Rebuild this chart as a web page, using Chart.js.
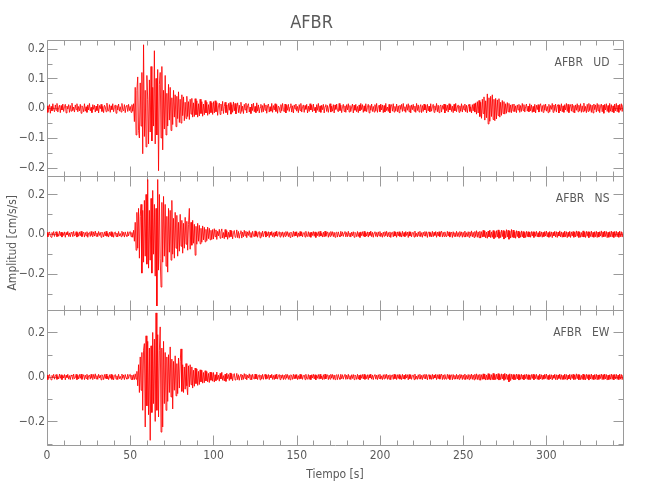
<!DOCTYPE html>
<html>
<head>
<meta charset="utf-8">
<script src="https://cdn.jsdelivr.net/npm/chart.js@4/dist/chart.umd.min.js"></script>
<style>
html,body{margin:0;padding:0;background:#ffffff;}
#wrap{position:relative;width:650px;height:500px;}
</style>
</head>
<body>
<div id="wrap"><canvas id="c"></canvas></div>
<script>
// ---- sampling: one value every 0.5 s from 0 to 346 s ----
const SAMPLE_STEP = 0.5;      // s
const AMP_UNIT = 0.001;       // stored values are thousandths of cm/s/s

// ---- UD component ----
const udValues = [
  // 0-51.5 s
  8,-14,3,12,-17,6,-9,15,-4,-12,11,-7,16,-13,2,10,-15,9,-6,14,
  -11,5,13,-16,7,-3,12,-14,9,-10,17,-8,4,-13,11,-5,15,-12,6,-9,
  13,-17,8,2,-12,15,-10,5,-14,11,-6,16,-9,3,-15,12,-4,10,-13,7,
  -8,14,-16,9,-2,13,-11,6,-15,10,4,-12,17,-7,-10,12,-14,8,-5,15,
  -12,3,11,-17,9,-6,14,-10,5,-13,16,-4,-9,12,-15,7,10,-11,13,-8,
  6,-14,12,-10,
  // 52-99.5 s
  15,-45,70,-90,60,105,-75,-100,85,-60,
  120,-153,213,-95,60,-130,110,30,-120,95,
  -80,140,-110,70,-60,193,-120,100,-90,130,
  -210,80,120,-100,140,-140,60,-70,110,-90,
  50,-60,80,-40,70,-75,35,-55,60,-30,
  45,-62,40,-35,55,-48,30,-50,45,-25,
  38,-42,20,-35,40,-28,22,-38,30,-20,
  33,-30,18,-28,32,-22,25,-30,15,-26,
  30,-18,22,-27,14,-22,26,-16,20,-24,
  12,-20,23,-15,18,-21,
  // 100-346 s
  22,-16,25,-12,19,-24,8,17,-21,14,-9,23,-18,6,20,-15,11,-22,16,-7,
  19,-20,12,-14,21,-9,16,-19,5,18,-15,10,-17,20,-11,7,-18,13,-6,17,
  -16,9,15,-13,4,-18,14,-8,17,-12,6,-15,18,-10,11,-16,3,13,-14,9,
  -12,16,-7,11,-17,8,14,-13,5,-10,16,-14,9,-6,15,-11,12,-17,7,3,
  -14,12,-9,16,-5,-12,14,-16,10,-7,13,-11,4,15,-13,8,-16,11,-3,14,
  -10,6,-15,12,-8,16,-13,5,11,-14,9,-4,13,-16,7,-11,15,-6,10,-12,
  14,-9,3,-15,12,-7,16,-12,8,-14,10,-5,13,-16,6,12,-11,9,-14,4,
  15,-13,7,-10,12,-16,11,-4,14,-9,-12,16,-8,10,-15,5,13,-11,8,-14,
  12,-6,15,-13,9,-11,4,14,-16,10,-7,13,-12,6,-15,11,-9,16,-5,12,
  -14,8,-10,15,-12,3,13,-16,9,-7,14,-11,6,-13,12,-9,16,-14,5,10,
  -12,14,-6,11,-15,9,-13,16,-8,4,-11,13,-16,7,12,-10,15,-13,6,-9,
  14,-12,8,-15,10,-4,13,-11,16,-9,5,-14,12,-7,15,-12,9,-16,11,-5,
  13,-10,7,-14,16,-8,11,-13,4,12,-15,9,-11,14,-6,10,-16,13,-9,7,
  -12,15,-10,5,13,-14,8,-7,16,-12,10,-15,6,11,-13,9,-4,14,-16,12,
  -8,10,-13,15,-6,12,-11,7,-15,13,-9,16,-12,4,11,-14,8,-10,15,-13,
  9,-6,14,-12,10,-15,7,13,-11,5,-16,12,-9,15,-13,18,-20,22,-16,26,
  -28,20,-34,30,-18,38,-40,25,-32,48,-53,35,-44,40,-28,45,-38,30,-42,33,
  -36,28,-25,32,-30,20,-24,26,-18,22,-20,15,-17,19,-12,16,-14,11,-15,13,
  -10,14,-12,8,-15,11,-6,13,-14,9,-11,16,-8,12,-13,5,14,-10,7,-12,
  15,-9,11,-14,6,-12,13,-16,10,-5,12,-13,8,15,-11,9,-14,12,-7,14,
  -10,6,-15,13,-12,9,-4,16,-14,11,-8,14,-13,7,12,-16,10,-9,15,-12,
  8,-14,12,-6,16,-11,13,-15,5,12,-10,14,-13,9,-16,11,-7,15,-12,10,
  -9,15,-14,8,-12,17,-10,6,-15,13,-11,16,-8,12,-14,10,-16,14,-5,11,
  -13,16,-9,12,-15,7,14,-12,10,-17,13,-6,15,-11,9,-14,16,-10,12,-13,
  8,-15,14,-9,16,-12,10,-14,13,-7,15,-11,12
];

// ---- NS component ----
const nsValues = [
  // 0-51.5 s
  10,-13,4,12,-8,-15,9,-5,14,-11,6,13,-12,3,-10,15,-7,11,-14,8,
  -6,12,-15,9,-3,14,-11,7,-13,10,5,-12,15,-9,-4,13,-14,8,-10,12,
  -7,15,-12,4,11,-14,9,-8,13,-15,6,10,-11,14,-5,-13,12,-9,16,-10,
  7,-12,14,-6,9,-15,11,3,-13,12,-8,15,-10,5,-14,11,-7,13,-12,9,
  -15,8,12,-11,6,-13,14,-9,4,-12,15,-7,10,-14,12,-5,-11,13,-8,10,
  14,-12,9,-15,
  // 52-99.5 s
  20,-35,60,-80,110,-70,130,-120,90,150,
  -195,120,-140,170,-110,200,-150,275,-170,120,
  -130,180,-195,220,-100,150,-210,130,-360,275,
  -180,200,-120,-265,160,-140,190,-110,150,-160,
  90,-190,130,-90,120,-130,170,-100,80,-120,
  110,-70,95,-110,60,-85,100,-60,70,-95,
  55,-70,85,-50,65,-80,50,130,-75,60,
  -55,70,-45,50,-105,40,-50,55,-35,45,
  -48,30,-40,42,-28,35,-38,25,-32,36,
  -22,30,-28,20,-26,24,
  // 100-346 s
  -24,28,-12,22,-26,15,-8,25,-20,12,27,-18,9,-22,24,-14,18,-25,10,-16,
  21,-12,17,-23,8,19,-15,-10,22,-17,14,-20,6,18,-19,11,-13,20,-8,15,
  -17,12,-6,18,-14,9,-16,15,-4,-13,17,-10,12,-15,7,14,-18,9,-11,16,
  -12,6,15,-14,10,-8,13,-16,11,-5,14,-12,8,-15,12,-9,16,-11,4,13,
  -14,10,-7,12,-15,9,-11,14,-6,13,-12,8,-16,11,5,-13,15,-10,12,-8,
  13,-15,7,-11,14,-9,12,-13,6,10,-14,15,-8,-11,13,-12,9,-15,11,-6,
  14,-10,12,-16,8,-7,13,-12,15,-9,5,-14,11,-13,16,-10,7,12,-15,9,
  -11,14,-6,13,-12,10,-15,8,11,-14,12,-5,-13,15,-9,12,-11,6,14,-13,
  9,-12,15,-10,7,-14,11,-8,13,-15,10,4,-12,14,-11,9,-16,12,-7,13,
  -10,15,-13,8,-9,12,-14,11,-6,16,-12,10,-15,7,13,-11,9,-14,12,-8,
  14,-12,6,-15,11,-10,13,-7,15,-13,9,-11,12,-16,8,10,-13,14,-9,11,
  -15,12,-8,13,-11,7,-14,15,-10,9,-12,14,-6,11,-16,13,-9,12,-13,8,
  10,-14,16,-11,5,-13,12,-9,15,-12,8,-15,11,-7,14,-10,13,-16,9,12,
  -11,8,-13,15,-12,10,-6,14,-15,11,-9,13,-12,7,16,-14,10,-11,12,-8,
  -13,15,-9,12,-14,6,11,-16,13,-10,8,-12,15,-11,9,-13,14,-7,12,-15,
  10,-12,16,-14,8,-11,13,-15,12,-9,17,-13,10,-16,14,-11,18,-15,12,-17,
  15,-19,13,-14,20,-12,17,-18,11,-20,16,-13,21,-17,12,-15,19,-22,14,-16,
  18,-14,22,-20,13,-17,21,-12,19,-24,15,-18,23,-14,20,-25,16,-19,24,-15,
  21,-17,13,-20,18,-12,16,-19,11,-15,17,-13,14,-18,10,-16,15,-12,13,-14,
  11,-15,14,-9,13,-16,12,-10,15,-13,8,-14,16,-11,12,-15,10,-12,14,-9,
  16,-13,9,-15,14,-11,12,-17,10,-8,15,-14,13,-16,11,-9,17,-13,12,-15,
  9,-14,16,-12,13,-17,10,-11,15,-16,12,-9,14,-15,11,-13,17,-10,14,-16,
  12,-15,9,-13,17,-14,11,-16,15,-10,13,-17,12,-11,16,-14,10,-15,13,-12,
  15,-16,11,-14,13,-9,17,-15,12,-13,16,-11,14,-17,10,-15,13,-12,16,-14,
  12,-16,14,-11,15,-13,10,-15,16,-12,13,-14,11
];

// ---- EW component ----
const ewValues = [
  // 0-51.5 s
  9,-12,3,11,-8,-13,7,-4,12,-10,5,11,-11,2,-9,13,-6,10,-12,7,
  -5,11,-13,8,-3,12,-10,6,-12,9,4,-11,13,-8,-4,12,-12,7,-9,11,
  -6,13,-11,4,10,-12,8,-7,12,-13,5,9,-10,12,-4,-12,11,-8,14,-9,
  6,-11,12,-5,8,-13,10,3,-12,11,-7,13,-9,4,-12,10,-6,12,-11,8,
  -13,7,11,-10,5,-12,12,-8,3,-11,13,-6,9,-12,11,-4,-10,12,-7,9,
  12,-11,8,-13,
  // 52-99.5 s
  10,-12,14,-10,25,-40,55,-70,90,-60,
  110,-150,120,150,-225,185,-130,160,-170,130,
  -285,140,-160,200,-120,170,-200,288,-150,190,
  -180,120,225,-248,130,-225,160,-120,110,-150,
  90,-110,100,-70,135,-90,80,-144,70,-60,
  95,-85,60,-75,85,-50,70,126,-65,55,
  -70,45,-55,60,-40,-80,50,-45,55,-35,
  45,-50,30,-42,40,-30,36,-38,25,-34,
  32,-22,30,-28,20,-26,28,-18,24,-22,
  16,-25,22,-15,20,-19,
  // 100-346 s
  20,-23,10,-17,22,-12,8,-19,16,-9,21,-15,6,-18,13,-20,17,-8,11,-16,
  18,-10,14,-17,7,15,-14,-6,16,-12,10,-15,5,13,-14,9,-11,15,-7,12,
  -13,8,-5,14,-11,10,-13,12,-4,-10,13,-9,11,-12,6,10,-13,8,-9,12,
  -11,5,12,-10,9,-7,11,-12,8,-4,12,-11,7,-12,10,-8,13,-10,4,11,
  -12,9,-6,10,-12,8,-10,12,-5,11,-11,7,-13,10,4,-11,12,-9,10,-7,
  11,-12,6,-10,12,-8,10,-11,5,9,-12,12,-7,-10,11,-11,8,-12,10,-5,
  12,-9,10,-13,7,-6,11,-10,12,-8,4,-12,10,-11,13,-9,6,10,-12,8,
  -10,12,-5,11,-11,9,-12,7,10,-12,11,-4,-11,12,-8,10,-10,5,12,-11,
  8,-10,12,-9,6,-12,10,-7,11,-12,9,3,-11,12,-10,8,-13,10,-6,11,
  -9,12,-11,7,-8,10,-12,10,-5,13,-10,9,-12,6,11,-10,8,-12,10,-7,
  12,-10,5,-12,10,-9,11,-6,12,-11,8,-10,10,-13,7,9,-11,12,-8,10,
  -12,10,-7,11,-10,6,-12,12,-9,8,-10,12,-5,10,-13,11,-8,10,-11,7,
  9,-12,13,-10,4,-11,10,-8,12,-10,7,-12,10,-6,12,-9,11,-13,8,10,
  -10,7,-11,12,-10,9,-5,12,-12,10,-8,11,-10,6,13,-12,9,-10,11,-7,
  -11,12,-8,10,-12,5,10,-13,11,-9,7,-10,12,-10,8,-11,12,-6,10,-12,
  9,-10,13,-12,7,-10,11,-12,10,-8,13,-11,9,-13,12,-10,14,-12,10,-13,
  12,-15,10,-11,14,-10,13,-14,9,-13,15,-11,12,-14,10,-12,16,-13,11,-12,
  13,-10,15,-14,11,-12,14,-9,12,-15,16,-11,13,-12,10,-22,14,-16,12,-10,
  11,-13,10,-12,13,-9,11,-14,10,-11,12,-10,9,-13,11,-8,12,-11,10,-12,
  9,-12,11,-7,12,-13,10,-8,12,-11,6,-12,13,-9,10,-12,8,-10,12,-7,
  13,-11,7,-12,11,-9,10,-13,8,-6,12,-12,10,-13,9,-7,13,-11,10,-12,
  7,-11,13,-10,11,-14,8,-9,12,-13,10,-7,12,-12,9,-11,14,-8,11,-13,
  10,-12,7,-11,13,-12,9,-13,12,-8,10,-14,10,-9,13,-11,8,-12,11,-10,
  12,-13,9,-11,10,-7,13,-12,10,-11,13,-9,11,-14,8,-12,10,-10,13,-11,
  10,-13,11,-9,12,-11,8,-12,13,-10,11,-12,9
];

const panelNames = ['AFBR   UD', 'AFBR   NS', 'AFBR   EW'];
const xTickLabels = [0, 50, 100, 150, 200, 250, 300];
const udTicks = [-0.2, -0.1, 0, 0.1, 0.2];
const nsTicks = [-0.2, 0, 0.2];
const ewTicks = [-0.2, 0, 0.2];

// ---- styling / layout ----
const X_MIN = 0, X_MAX = 346;
const X_MINOR_STEP = 10, X_MAJOR_STEP = 50;
const MAJOR_LEN = 10, MINOR_LEN = 5;
const AXIS_COLOR = '#9a9a9a';
const TEXT_COLOR = '#5a5a5a';
const TRACE_COLOR = 'rgba(255,0,0,0.85)';
const FONT_FAMILY = "'Liberation Sans Narrow', 'DejaVu Sans Condensed', 'Liberation Sans', sans-serif";

const PANELS = [
  { id: 'yUD', label: panelNames[0], values: udValues, ticks: udTicks, minorStep: 0.05, min: -0.226, max: 0.229, weight: 135.5 },
  { id: 'yNS', label: panelNames[1], values: nsValues, ticks: nsTicks, minorStep: 0.1,  min: -0.38,  max: 0.295, weight: 134.5 },
  { id: 'yEW', label: panelNames[2], values: ewValues, ticks: ewTicks, minorStep: 0.1,  min: -0.306, max: 0.301, weight: 135 }
];

function fmtY(v) {
  if (Math.abs(v) < 1e-9) return '0.0';
  return (v < 0 ? '\u2212' : '') + Math.abs(v).toFixed(1);
}

const panelFrames = {
  id: 'panelFrames',
  beforeDatasetsDraw(chart) {
    const ctx = chart.ctx;
    const left = chart.chartArea.left, right = chart.chartArea.right;
    const xs = chart.scales.x;
    ctx.save();
    ctx.strokeStyle = AXIS_COLOR;
    ctx.lineWidth = 1;
    PANELS.forEach(p => {
      const ys = chart.scales[p.id];
      const top = Math.round(ys.top) + 0.5, bottom = Math.round(ys.bottom) + 0.5;
      const l = Math.round(left) + 0.5, r = Math.round(right) + 0.5;
      ctx.beginPath();
      ctx.rect(l, top, r - l, bottom - top);
      for (let k = 0; X_MIN + k * X_MINOR_STEP <= X_MAX + 1e-9; k++) {
        const t = X_MIN + k * X_MINOR_STEP;
        const px = Math.round(xs.getPixelForValue(t)) + 0.5;
        const len = (t % X_MAJOR_STEP === 0) ? MAJOR_LEN : MINOR_LEN;
        ctx.moveTo(px, bottom); ctx.lineTo(px, bottom - len);
        ctx.moveTo(px, top); ctx.lineTo(px, top + len);
      }
      const kStart = Math.ceil(p.min / p.minorStep - 1e-9);
      const kEnd = Math.floor(p.max / p.minorStep + 1e-9);
      for (let k = kStart; k <= kEnd; k++) {
        const v = k * p.minorStep;
        const py = Math.round(ys.getPixelForValue(v)) + 0.5;
        const major = p.ticks.some(m => Math.abs(m - v) < 1e-9);
        const len = major ? MAJOR_LEN : MINOR_LEN;
        ctx.moveTo(l, py); ctx.lineTo(l + len, py);
        ctx.moveTo(r, py); ctx.lineTo(r - len, py);
      }
      ctx.stroke();
      ctx.fillStyle = TEXT_COLOR;
      ctx.font = '12px ' + FONT_FAMILY;
      ctx.textAlign = 'right';
      ctx.textBaseline = 'middle';
      ctx.fillText(p.label, r - 14, top + 22);
    });
    ctx.restore();
  }
};

function yAxis(p, withTitle) {
  return {
    type: 'linear',
    position: 'left',
    stack: 'panels',
    stackWeight: p.weight,
    min: p.min,
    max: p.max,
    afterBuildTicks: s => { s.ticks = p.ticks.map(v => ({ value: v })); },
    afterFit: s => { s.width = 47; },
    grid: { display: false, drawTicks: false },
    border: { display: false },
    ticks: {
      padding: 2,
      color: TEXT_COLOR,
      font: { family: FONT_FAMILY, size: 12 },
      callback: v => fmtY(v),
      autoSkip: false
    },
    title: {
      display: withTitle,
      text: 'Amplitud [cm/s/s]',
      color: TEXT_COLOR,
      font: { family: FONT_FAMILY, size: 12 },
      padding: { top: 6, bottom: 0 }
    }
  };
}

const datasets = PANELS.map(p => ({
  label: p.label,
  yAxisID: p.id,
  xAxisID: 'x',
  data: p.values.map((v, i) => ({ x: i * SAMPLE_STEP, y: v * AMP_UNIT })),
  borderColor: TRACE_COLOR,
  borderWidth: 1,
  pointRadius: 0,
  tension: 0,
  fill: false
}));

const scales = {
  x: {
    type: 'linear',
    position: 'bottom',
    min: X_MIN,
    max: X_MAX,
    afterBuildTicks: s => { s.ticks = xTickLabels.map(v => ({ value: v })); },
    afterFit: s => { s.height = 55; },
    grid: { display: false, drawTicks: false },
    border: { display: false },
    ticks: {
      padding: 4,
      color: TEXT_COLOR,
      font: { family: FONT_FAMILY, size: 12 },
      autoSkip: false,
      maxRotation: 0,
      callback: v => String(v)
    },
    title: {
      display: true,
      text: 'Tiempo [s]',
      color: TEXT_COLOR,
      font: { family: FONT_FAMILY, size: 12 },
      padding: { top: 18, bottom: 18 }
    }
  }
};
// stacked panels: later-defined left axes are placed above earlier ones
scales.yEW = yAxis(PANELS[2], false);
scales.yNS = yAxis(PANELS[1], true);
scales.yUD = yAxis(PANELS[0], false);

new Chart(document.getElementById('c'), {
  type: 'line',
  data: { datasets },
  options: {
    responsive: true,
    maintainAspectRatio: false,
    animation: false,
    devicePixelRatio: 1,
    parsing: false,
    normalized: true,
    layout: { padding: { left: 0, right: 27, top: 0, bottom: 0 } },
    plugins: {
      legend: { display: false },
      tooltip: { enabled: false },
      title: {
        display: true,
        text: 'AFBR',
        color: TEXT_COLOR,
        font: { family: FONT_FAMILY, size: 18, weight: 'normal' },
        padding: { top: 13, bottom: 5.4 }
      }
    },
    scales
  },
  plugins: [panelFrames]
});
</script>
</body>
</html>
